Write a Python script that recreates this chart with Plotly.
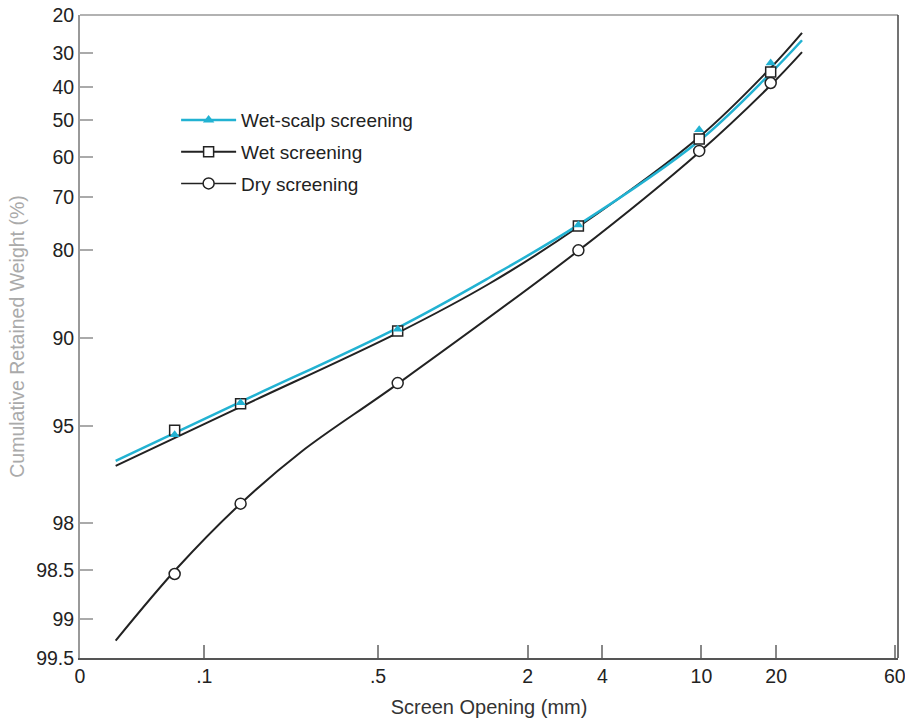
import numpy as np
import plotly.graph_objects as go

# ---------------- data ----------------
# screen openings (mm) of the plotted sample points
marker_openings = [0.076, 0.14, 0.6, 3.2, 9.8, 19]
wet_scalp_pts = [95.4, 94.0, 89.3, 75.8, 52.9, 33.1]
wet_pts = [95.2, 94.05, 89.45, 76.0, 55.4, 35.8]
dry_pts = [98.55, 97.6, 93.0, 80.1, 58.5, 38.9]

# hand-fitted curves, read at several openings (mm)
wet_curve_openings = [0.044, 0.14, 0.6, 1.4, 3.2, 9.8, 19, 25.4]
wet_scalp_curve = [96.41, 93.96, 89.18, 83.96, 75.8, 55.9, 36.1, 26.8]
wet_curve = [96.57, 94.19, 89.6, 84.7, 76.15, 54.9, 34.6, 24.9]
dry_curve_openings = [0.044, 0.078, 0.14, 0.245, 0.6, 3.2, 9.8, 19, 25.4]
dry_curve = [99.32, 98.48, 97.6, 96.09, 93.04, 80.15, 58.8, 39.5, 29.8]

# tick labels
x_tick_values = [10 ** -1.5, 0.1, 0.5, 2, 4, 10, 20, 60]
x_tick_text = ["0", ".1", ".5", "2", "4", "10", "20", "60"]
y_tick_values = [20, 30, 40, 50, 60, 70, 80, 90, 95, 98, 98.5, 99, 99.5]
y_tick_text = ["20", "30", "40", "50", "60", "70", "80", "90", "95", "98", "98.5", "99", "99.5"]

# ---------------- scale definition ----------------
# The printed ordinate is a non-uniform (probability-like) scale: relative
# height of each tick along the axis, bottom = 0, top = 1.
Y_AXIS_FRACTION = [1.0, 0.941, 0.888, 0.837, 0.779, 0.717, 0.635, 0.498,
                   0.361, 0.210, 0.137, 0.061, 0.0]
_t_ticks = np.log10(100 - np.array(y_tick_values, dtype=float))
_f_ticks = np.array(Y_AXIS_FRACTION)


def yscale(v):
    t = np.log10(100 - np.asarray(v, dtype=float))
    return np.interp(t, _t_ticks[::-1], _f_ticks[::-1])


CYAN = "#22b2d2"
BLACK = "#222222"
FONT = "Liberation Sans, Arial, sans-serif"

fig = go.Figure()

# curves
fig.add_trace(go.Scatter(x=dry_curve_openings, y=yscale(dry_curve), mode="lines",
                         line=dict(color=BLACK, width=2, shape="spline", smoothing=1.0),
                         showlegend=False, hoverinfo="skip"))
fig.add_trace(go.Scatter(x=wet_curve_openings, y=yscale(wet_curve), mode="lines",
                         line=dict(color=BLACK, width=2, shape="spline", smoothing=1.0),
                         showlegend=False, hoverinfo="skip"))
fig.add_trace(go.Scatter(x=wet_curve_openings, y=yscale(wet_scalp_curve), mode="lines",
                         line=dict(color=CYAN, width=2.5, shape="spline", smoothing=1.0),
                         showlegend=False, hoverinfo="skip"))

# markers
fig.add_trace(go.Scatter(x=marker_openings, y=yscale(dry_pts), mode="markers",
                         marker=dict(symbol="circle", size=11, color="white",
                                     line=dict(color=BLACK, width=1.5)),
                         showlegend=False))
fig.add_trace(go.Scatter(x=marker_openings, y=yscale(wet_pts), mode="markers",
                         marker=dict(symbol="square", size=10, color="white",
                                     line=dict(color=BLACK, width=1.5)),
                         showlegend=False))
fig.add_trace(go.Scatter(x=marker_openings, y=yscale(wet_scalp_pts), mode="markers",
                         marker=dict(symbol="triangle-up", size=9, color=CYAN,
                                     line=dict(color=CYAN, width=0)),
                         showlegend=False))

# legend entries
fig.add_trace(go.Scatter(x=[None], y=[None], mode="lines+markers", name="Wet-scalp screening",
                         legendgroup="a",
                         line=dict(color=CYAN, width=2.5),
                         marker=dict(symbol="triangle-up", size=10, color=CYAN)))
fig.add_trace(go.Scatter(x=[None], y=[None], mode="lines+markers", name="Wet screening",
                         legendgroup="b",
                         line=dict(color=BLACK, width=2),
                         marker=dict(symbol="square", size=10, color="white",
                                     line=dict(color=BLACK, width=1.5))))
fig.add_trace(go.Scatter(x=[None], y=[None], mode="lines+markers", name="Dry screening",
                         legendgroup="c",
                         line=dict(color=BLACK, width=1.5),
                         marker=dict(symbol="circle", size=11, color="white",
                                     line=dict(color=BLACK, width=1.5))))

fig.update_layout(
    width=905, height=718, autosize=False,
    margin=dict(l=80, r=7, t=15, b=60, autoexpand=False),
    paper_bgcolor="white", plot_bgcolor="white",
    font=dict(family=FONT, size=19, color="#222"),
    legend=dict(x=0.1175, y=0.866, xanchor="left", yanchor="top",
                bgcolor="rgba(0,0,0,0)", itemwidth=55, traceorder="grouped",
                tracegroupgap=4, font=dict(size=19, color="#222")),
    xaxis=dict(type="log", range=[-1.5, 1.791], automargin=False,
               tickvals=x_tick_values, ticktext=x_tick_text,
               ticklabeloverflow="allow",
               ticks="inside", ticklen=13, tickwidth=1.5, tickcolor="#888",
               showline=True, linecolor="#555", linewidth=1.5,
               showgrid=False, zeroline=False,
               tickfont=dict(size=19.5, color="#222"),
               title=dict(text="Screen Opening (mm)", standoff=14,
                          font=dict(size=20, color="#333"))),
    yaxis=dict(range=[0, 1], automargin=False,
               tickvals=list(_f_ticks), ticktext=y_tick_text,
               ticks="inside", ticklen=13, tickwidth=2, tickcolor="#aaa",
               showline=True, linecolor="#999", linewidth=2,
               showgrid=False, zeroline=False,
               tickfont=dict(size=19.5, color="#222"),
               title=dict(text="Cumulative Retained Weight (%)", standoff=6,
                          font=dict(size=19.5, color="#aaa"))),
    shapes=[
        dict(type="line", xref="paper", yref="paper", x0=0, x1=1, y0=1, y1=1,
             line=dict(color="#999", width=1.5)),
        dict(type="line", xref="paper", yref="paper", x0=1, x1=1, y0=0, y1=1,
             line=dict(color="#444", width=1.5)),
    ],
)

fig.write_html("out.html")
